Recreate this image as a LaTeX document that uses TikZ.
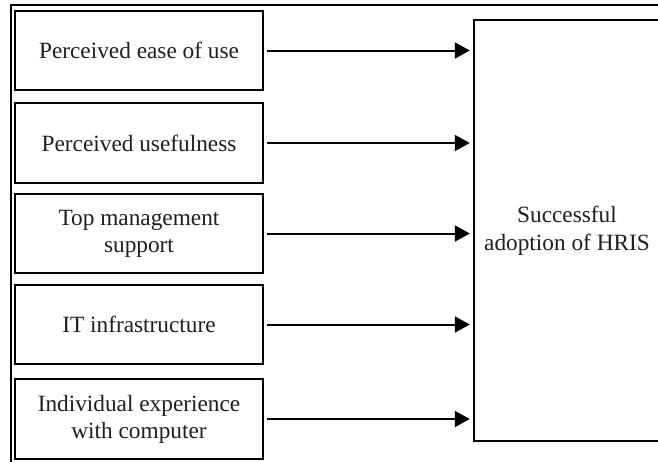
\documentclass[tikz,border=0pt]{standalone}
\usepackage{fontspec}
\setmainfont{Liberation Serif}
\usetikzlibrary{arrows.meta}
\begin{document}
\begin{tikzpicture}[x=1pt,y=-1pt,
  factor/.style={draw=black, line width=1.4pt, minimum width=248pt, align=center,
    font=\fontsize{23.3}{27}\selectfont, text=black!88, inner sep=0pt},
  target/.style={draw=black, line width=1.4pt, minimum width=186pt, minimum height=421pt,
    align=center, font=\fontsize{23.3}{28}\selectfont, text=black!88, inner sep=0pt},
  arr/.style={line width=2pt, -{Triangle[length=15pt,width=16pt]}, shorten <=3pt, shorten >=3.5pt}]
\useasboundingbox (0,0) rectangle (658,461);
\clip (0,0) rectangle (658,461);
\fill[white] (0,0) rectangle (658,461);
% outer frame
\draw[line width=1.4pt] (11,470) -- (11,5) -- (670,5);
\node[factor, minimum height=79pt] (b1) at (139,50.5) {Perceived ease of use};
\node[factor, minimum height=80pt] (b2) at (139,143) {Perceived usefulness};
\node[factor, minimum height=79pt] (b3) at (139,233.5) {Top management\\support};
\node[factor, minimum height=79pt] (b4) at (139,324.5) {IT infrastructure};
\node[factor, minimum height=80pt] (b5) at (139,419) {Individual experience\\with computer};
\node[target] (t) at (567,230.5) {Successful\\adoption of HRIS};
\foreach \b in {b1,b2,b3,b4,b5}
  \draw[arr] (\b.east) -- (\b.east -| t.west);
\end{tikzpicture}
\end{document}
